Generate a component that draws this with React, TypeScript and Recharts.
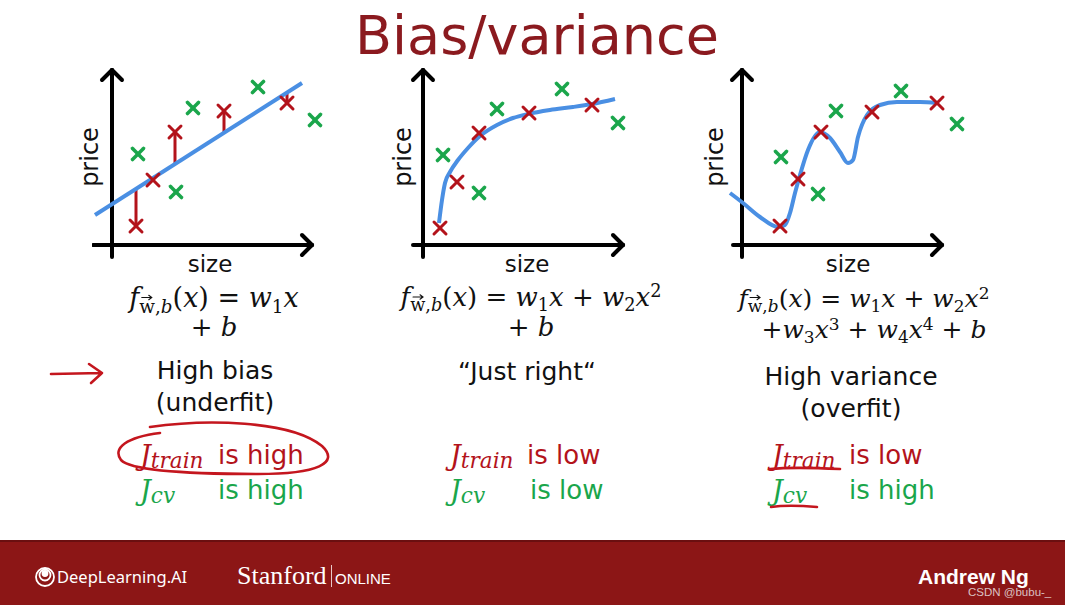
import React from 'react';
import { ComposedChart, XAxis, YAxis, Scatter, Line, ReferenceLine } from 'recharts';

// [size, price] pairs (1 unit ~ 1px, origin at the axes corner)
const FIT_1: [number, number][] = [[-17, 30], [190, 162]];
const TRAIN_1: [number, number][] = [[24, 19], [41, 65], [63, 113], [112, 134], [175, 142]];
const CV_1: [number, number][] = [[26, 91], [81, 137], [64, 53], [146, 158], [203, 125]];

const FIT_2: [number, number][] = [
  [16, 22], [19, 45], [22, 62], [27, 73], [35, 85], [45, 97], [57, 109],
  [74, 120], [90, 127], [105, 131], [127, 135], [150, 138], [169, 141], [192, 146],
];
const TRAIN_2: [number, number][] = [[17, 17], [34, 63], [56, 112], [106, 132], [169, 140]];
const CV_2: [number, number][] = [[20, 90], [74, 136], [56, 52], [139, 156], [195, 122]];

const FIT_3: [number, number][] = [
  [-12, 52], [1, 42], [18, 28], [36, 18], [43, 20], [48, 32], [53, 52], [58, 70],
  [66, 95], [78, 113], [88, 107], [98, 93], [106, 82], [111, 85], [116, 108],
  [125, 130], [138, 140], [155, 143], [178, 143], [195, 142],
];
const TRAIN_3: [number, number][] = [[38, 19], [56, 66], [79, 113], [130, 133], [195, 142]];
const CV_3: [number, number][] = [[39, 88], [94, 134], [76, 51], [159, 154], [215, 121]];

const RED = '#b3131b';
const GREEN = '#1aa64b';
const BLUE = '#4a8fe3';
const TITLE = '#8b1a1f';
const BANNER = '#8c1616';
const SANS = '"DejaVu Sans", Verdana, sans-serif';
const SERIF = '"DejaVu Serif", serif';

const toPts = (arr: [number, number][]) => arr.map(([x, y]) => ({ x, y }));

const cross = (color: string, r: number, w: number) => (props: any) => {
  const { cx, cy } = props;
  return (
    <g stroke={color} strokeWidth={w} strokeLinecap="round">
      <line x1={cx - r} y1={cy - r} x2={cx + r} y2={cy + r} />
      <line x1={cx - r} y1={cy + r} x2={cx + r} y2={cy - r} />
    </g>
  );
};

type PlotProps = {
  left: number;
  top: number;
  fit: [number, number][];
  train: [number, number][];
  cv: [number, number][];
  xStart: number;
  residuals?: boolean;
};

const axisSeg = (a: [number, number], b: [number, number], key: string) => (
  <ReferenceLine
    key={key}
    segment={[{ x: a[0], y: a[1] }, { x: b[0], y: b[1] }]}
    stroke="#000"
    strokeWidth={4}
    strokeLinecap="round"
    ifOverflow="visible"
  />
);

const Plot: React.FC<PlotProps> = ({ left, top, fit, train, cv, xStart, residuals }) => {
  const fitAt = (x: number) => {
    const [x0, y0] = fit[0];
    const [x1, y1] = fit[fit.length - 1];
    return y0 + ((x - x0) * (y1 - y0)) / (x1 - x0);
  };
  return (
    <div style={{ position: 'absolute', left, top }}>
      <ComposedChart width={245} height={200} margin={{ top: 0, right: 0, bottom: 0, left: 0 }}>
        <XAxis type="number" dataKey="x" domain={[-20, 225]} allowDataOverflow hide />
        <YAxis type="number" domain={[-20, 180]} allowDataOverflow hide />
        {axisSeg([xStart, 0], [200, 0], 'xa')}
        {axisSeg([200, 0], [190, 10], 'xa1')}
        {axisSeg([200, 0], [190, -10], 'xa2')}
        {axisSeg([0, -12], [0, 175], 'ya')}
        {axisSeg([0, 175], [-10, 165], 'ya1')}
        {axisSeg([0, 175], [10, 165], 'ya2')}
        {residuals &&
          train.map(([x, y], i) => (
            <ReferenceLine
              key={`r${i}`}
              segment={[{ x, y: fitAt(x) }, { x, y }]}
              stroke={RED}
              strokeWidth={3}
              ifOverflow="visible"
            />
          ))}
        <Line
          data={toPts(fit)}
          dataKey="y"
          type="monotone"
          stroke={BLUE}
          strokeWidth={4}
          dot={false}
          isAnimationActive={false}
        />
        <Scatter data={toPts(cv)} dataKey="y" shape={cross(GREEN, 5.5, 3.6)} isAnimationActive={false} />
        <Scatter data={toPts(train)} dataKey="y" shape={cross(RED, 6, 3)} isAnimationActive={false} />
      </ComposedChart>
    </div>
  );
};

const Txt: React.FC<{ x: number; y: number; style?: React.CSSProperties; children: React.ReactNode }> = ({
  x, y, style, children,
}) => (
  <div
    style={{
      position: 'absolute', left: x, top: y, transform: 'translate(-50%, -50%)',
      whiteSpace: 'nowrap', lineHeight: 1, fontFamily: SANS, fontSize: 25, color: '#111', ...style,
    }}
  >
    {children}
  </div>
);

const LTxt: React.FC<{ x: number; y: number; style?: React.CSSProperties; children: React.ReactNode }> = ({
  x, y, style, children,
}) => (
  <div
    style={{
      position: 'absolute', left: x, top: y, transform: 'translateY(-50%)',
      whiteSpace: 'nowrap', lineHeight: 1, fontFamily: SANS, fontSize: 26, ...style,
    }}
  >
    {children}
  </div>
);

const sub: React.CSSProperties = { fontSize: '0.68em', position: 'relative', top: '0.3em' };
const sup: React.CSSProperties = { fontSize: '0.68em', position: 'relative', top: '-0.5em' };
const it: React.CSSProperties = { fontStyle: 'italic' };

// w with a small vector arrow drawn above it
const Wvec = () => (
  <span style={{ position: 'relative', display: 'inline-block' }}>
    w
    <svg
      width={11}
      height={6}
      style={{ position: 'absolute', left: '50%', top: -3, marginLeft: -5.5, overflow: 'visible' }}
    >
      <g stroke="#111" strokeWidth={1.1} fill="none" strokeLinecap="round">
        <path d="M 0.5 3 L 10.5 3 M 7.5 0.8 L 10.5 3 L 7.5 5.2" />
      </g>
    </svg>
  </span>
);

const Fhead = () => (
  <>
    <span style={it}>f</span>
    <span style={{ ...sub, fontStyle: 'normal' }}>
      <Wvec />,<span style={it}>b</span>
    </span>
    (<span style={it}>x</span>) = <span style={it}>w</span>
    <span style={sub}>1</span>
    <span style={it}>x</span>
  </>
);

const Jtrain = () => (
  <span style={{ fontFamily: SERIF, fontStyle: 'italic', fontSize: 27 }}>
    J<span style={{ fontSize: '0.8em', position: 'relative', top: '0.12em' }}>train</span>
  </span>
);
const Jcv = () => (
  <span style={{ fontFamily: SERIF, fontStyle: 'italic', fontSize: 27 }}>
    J<span style={{ fontSize: '0.8em', position: 'relative', top: '0.12em' }}>cv</span>
  </span>
);

const formula: React.CSSProperties = { fontFamily: SERIF, fontSize: 26 };

export default function App() {
  return (
    <div
      style={{
        position: 'absolute', left: 0, top: 0, width: 1065, height: 605,
        background: '#fff', overflow: 'hidden',
      }}
    >
      <Txt x={537} y={36} style={{ fontSize: 54, color: TITLE }}>Bias/variance</Txt>

      <Plot left={92} top={65} fit={FIT_1} train={TRAIN_1} cv={CV_1} xStart={-19} residuals />
      <Plot left={403} top={65} fit={FIT_2} train={TRAIN_2} cv={CV_2} xStart={-10} />
      <Plot left={722} top={65} fit={FIT_3} train={TRAIN_3} cv={CV_3} xStart={-9} />

      {[90, 403, 715].map((x) => (
        <Txt key={x} x={x} y={157} style={{ fontSize: 24, transform: 'translate(-50%, -50%) rotate(-90deg)' }}>
          price
        </Txt>
      ))}
      <Txt x={210} y={264} style={{ fontSize: 23 }}>size</Txt>
      <Txt x={527} y={264} style={{ fontSize: 23 }}>size</Txt>
      <Txt x={848} y={264} style={{ fontSize: 23 }}>size</Txt>

      <Txt x={214} y={297} style={{ ...formula, fontSize: 27 }}><Fhead /></Txt>
      <Txt x={214} y={327} style={formula}>+ <span style={it}>b</span></Txt>

      <Txt x={531} y={297} style={formula}>
        <Fhead /> + <span style={it}>w</span><span style={sub}>2</span><span style={it}>x</span>
        <span style={sup}>2</span>
      </Txt>
      <Txt x={531} y={327} style={formula}>+ <span style={it}>b</span></Txt>

      <Txt x={864} y={298} style={{ ...formula, fontSize: 25 }}>
        <Fhead /> + <span style={it}>w</span><span style={sub}>2</span><span style={it}>x</span>
        <span style={sup}>2</span>
      </Txt>
      <Txt x={874} y={329} style={{ ...formula, fontSize: 25 }}>
        +<span style={it}>w</span><span style={sub}>3</span><span style={it}>x</span><span style={sup}>3</span> +{' '}
        <span style={it}>w</span><span style={sub}>4</span><span style={it}>x</span><span style={sup}>4</span> +{' '}
        <span style={it}>b</span>
      </Txt>

      <Txt x={215} y={370}>High bias</Txt>
      <Txt x={215} y={402}>(underfit)</Txt>
      <Txt x={527} y={371}>{'\u201CJust right\u201C'}</Txt>
      <Txt x={851} y={376}>High variance</Txt>
      <Txt x={851} y={408}>(overfit)</Txt>

      <LTxt x={140} y={455} style={{ color: RED }}><Jtrain /></LTxt>
      <LTxt x={218} y={455} style={{ color: RED }}>is high</LTxt>
      <LTxt x={140} y={490} style={{ color: GREEN }}><Jcv /></LTxt>
      <LTxt x={218} y={490} style={{ color: GREEN }}>is high</LTxt>

      <LTxt x={450} y={455} style={{ color: RED }}><Jtrain /></LTxt>
      <LTxt x={527} y={455} style={{ color: RED }}>is low</LTxt>
      <LTxt x={450} y={490} style={{ color: GREEN }}><Jcv /></LTxt>
      <LTxt x={530} y={490} style={{ color: GREEN }}>is low</LTxt>

      <LTxt x={772} y={455} style={{ color: RED }}><Jtrain /></LTxt>
      <LTxt x={849} y={455} style={{ color: RED }}>is low</LTxt>
      <LTxt x={772} y={490} style={{ color: GREEN }}><Jcv /></LTxt>
      <LTxt x={849} y={490} style={{ color: GREEN }}>is high</LTxt>

      {/* hand-drawn annotations */}
      <svg width={1065} height={605} style={{ position: 'absolute', left: 0, top: 0, pointerEvents: 'none' }}>
        <g stroke="#c4161e" strokeWidth={2.6} fill="none" strokeLinecap="round" strokeLinejoin="round">
          <path d="M 51 374 L 102 373 M 89 364 L 102 373 L 91 383" />
          <path d="M 150 427 C 205 419 290 420 322 446 C 340 463 318 474 258 474 C 200 474 132 472 121 460 C 112 448 127 437 160 433" />
          <path d="M 770 469 C 790 467 820 468 840 469" />
          <path d="M 771 507 C 785 505 805 506 817 507" />
        </g>
      </svg>

      {/* footer banner */}
      <div style={{ position: 'absolute', left: 0, top: 540, width: 1065, height: 65, background: BANNER, borderTop: '2px solid #6a0f10' }} />
      <svg width={24} height={24} style={{ position: 'absolute', left: 34, top: 566 }}>
        <g fill="none" stroke="#fff" strokeWidth={1.8}>
          <circle cx={11} cy={11} r={9} />
          <circle cx={11} cy={9} r={5.5} />
          <circle cx={11} cy={7.5} r={2.5} fill="#fff" />
        </g>
      </svg>
      <LTxt x={57} y={577} style={{ color: '#fff', fontFamily: '"Noto Sans", sans-serif', fontSize: 16.5 }}>
        DeepLearning.AI
      </LTxt>
      <LTxt x={237} y={576} style={{ color: '#fff', fontFamily: '"Liberation Serif", serif', fontSize: 26 }}>
        Stanford
      </LTxt>
      <div style={{ position: 'absolute', left: 331, top: 565, width: 1, height: 22, background: '#e8c8c8' }} />
      <LTxt x={335} y={578} style={{ color: '#fff', fontFamily: '"Liberation Sans", sans-serif', fontSize: 15 }}>
        ONLINE
      </LTxt>
      <LTxt x={918} y={576} style={{ color: '#fff', fontFamily: '"Liberation Sans", sans-serif', fontSize: 21, fontWeight: 700 }}>
        Andrew Ng
      </LTxt>
      <LTxt x={968} y={593} style={{ color: 'rgba(235,225,225,0.85)', fontFamily: '"Liberation Sans", sans-serif', fontSize: 11.5 }}>
        CSDN @bubu-_
      </LTxt>
    </div>
  );
}
